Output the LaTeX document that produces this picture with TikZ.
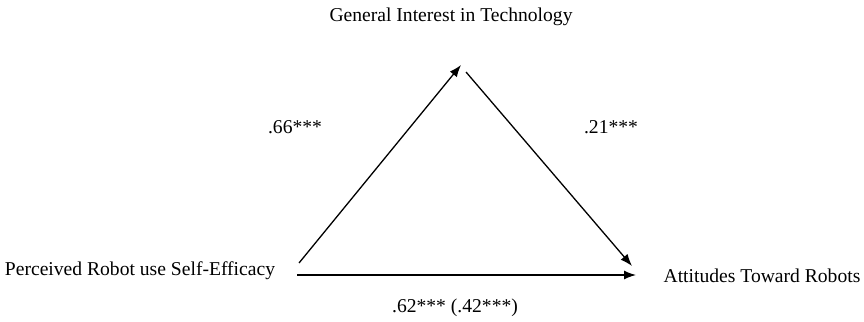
\documentclass[tikz,border=0pt]{standalone}
\usepackage{fontspec}
\setmainfont{Liberation Serif}
\usetikzlibrary{arrows.meta,positioning}

\tikzset{
  varlabel/.style={font=\fontsize{19.6}{23}\selectfont, inner sep=0pt},
  coeflabel/.style={font=\fontsize{19.6}{23}\selectfont, inner sep=0pt},
  effarrow/.style={line width=1.3pt, -{Latex[length=12pt,width=9pt]}}
}

\begin{document}
\begin{tikzpicture}[x=1pt,y=-1pt]
\useasboundingbox (0,0) rectangle (864,321);

% Variables
\node[varlabel] (tech) at (451,17) {General Interest in Technology};
\node[varlabel] (eff) at (140,271) {Perceived Robot use Self-Efficacy};
\node[varlabel] (att) at (762,276) {Attitudes Toward Robots};

% Arrow end points
\coordinate (effup) at (299,263);
\coordinate (effright) at (297,275);
\coordinate (techin) at (461,65);
\coordinate (techout) at (466,72);
\coordinate (attup) at (632,266);
\coordinate (attleft) at (636,275);

\draw[effarrow] (effup) -- (techin);
\draw[effarrow] (techout) -- (attup);
\draw[effarrow] (effright) -- (attleft);

% Coefficients
\node[coeflabel] (a) at (295,127) {.66***};
\node[coeflabel] (b) at (611,127) {.21***};
\node[coeflabel] (c) at (455,308) {.62*** (.42***)};
\end{tikzpicture}
\end{document}
